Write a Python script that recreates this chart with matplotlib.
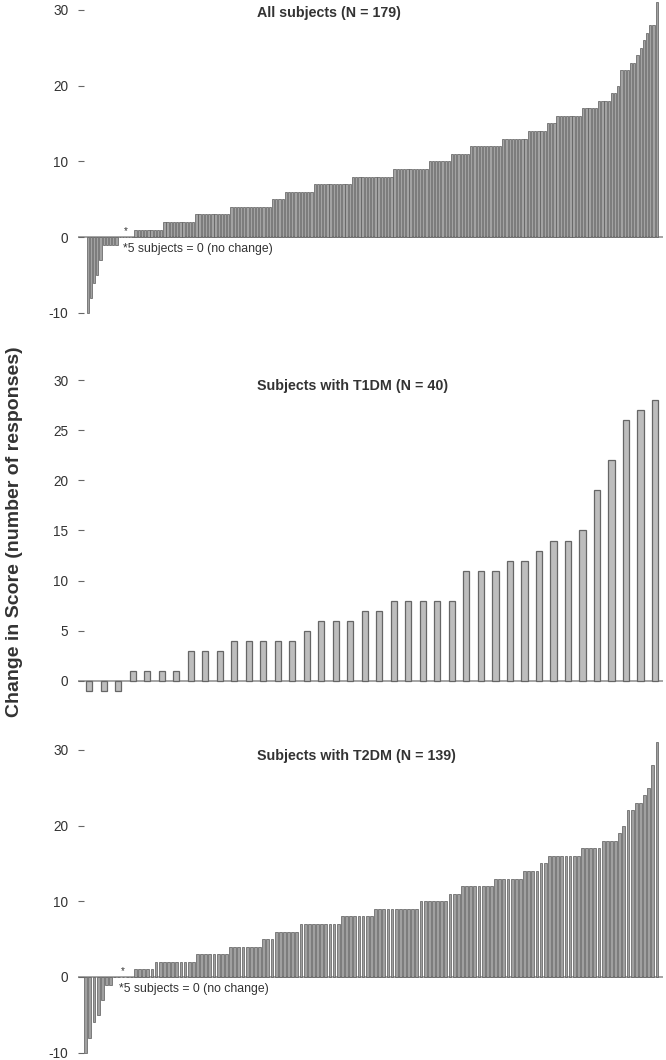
import numpy as np
import matplotlib.pyplot as plt

plt.rcParams['font.family'] = ['Liberation Sans', 'DejaVu Sans']
plt.rcParams['axes.unicode_minus'] = False

# change in score per subject, sorted
t1dm_scores = [-1, -1, -1, 1, 1, 1, 1, 3, 3, 3, 4, 4, 4, 4, 4, 5, 6, 6, 6, 7, 7,
               8, 8, 8, 8, 8, 11, 11, 11, 12, 12, 13, 14, 14, 15, 19, 22, 26, 27, 28]

t2dm_scores = ([-10, -8, -6, -5, -3, -1, -1] + [0] * 5 + [1] * 5 + [2] * 10 + [3] * 8
               + [4] * 8 + [5] * 3 + [6] * 6 + [7] * 10 + [8] * 8 + [9] * 11 + [10] * 7
               + [11] * 3 + [12] * 8 + [13] * 7 + [14] * 4 + [15] * 2 + [16] * 8
               + [17] * 5 + [18] * 4 + [19, 20, 22, 22, 23, 23, 24, 25, 28, 31])

all_scores = sorted(t1dm_scores + t2dm_scores)

titles = ["All subjects (N = 179)", "Subjects with T1DM (N = 40)", "Subjects with T2DM (N = 139)"]
note_text = "*5 subjects = 0 (no change)"
ylabel = "Change in Score (number of responses)"

W, H = 666, 1060
fig = plt.figure(figsize=(W / 100, H / 100), dpi=100)


def px_axes(left, top, right, bottom):
    return fig.add_axes([left / W, 1 - bottom / H, (right - left) / W, (bottom - top) / H])


def draw_panel(ax, scores, title, yticks, ylim, xpad, width, face, edge, lw, title_y, note=False):
    x = np.arange(len(scores))
    ax.bar(x, scores, width=width, color=face, edgecolor=edge, linewidth=lw, zorder=2)
    ax.axhline(0, color='#8c8c8c', lw=1.1, zorder=1)
    ax.set_xlim(-xpad[0], len(scores) - 1 + xpad[1])
    ax.set_ylim(*ylim)
    ax.set_yticks(yticks)
    ax.set_xticks([])
    for s in ax.spines.values():
        s.set_visible(False)
    ax.tick_params(axis='y', direction='in', length=4, width=0.8, color='#666666',
                   pad=7, labelsize=9.8, labelcolor='#333333')
    ax.text(0.306, title_y, title, transform=ax.transAxes, fontsize=10.3,
            fontweight='bold', color='#333333', va='center', ha='left')
    if note:
        zeros = [i for i, v in enumerate(scores) if v == 0]
        xc = np.mean(zeros)
        ax.annotate("*", (xc, 0), xytext=(0, 0.5), textcoords='offset points',
                    ha='center', va='bottom', fontsize=7, color='#333333')
        ax.annotate(note_text, (xc, 0), xytext=(-2.5, -4), textcoords='offset points',
                    ha='left', va='top', fontsize=8.8, color='#333333')


ax1 = px_axes(78, 0, 663, 322)
draw_panel(ax1, all_scores, titles[0], [-10, 0, 10, 20, 30], (-11.2, 31.3), (3.03, 1.97),
           0.72, '#a3a3a3', '#5a5a5a', 0.5, 0.96, note=True)

ax2 = px_axes(78, 365, 663, 700)
draw_panel(ax2, t1dm_scores, titles[1], [0, 5, 10, 15, 20, 25, 30], (-1.9, 31.5), (0.78, 0.55),
           0.42, '#bdbdbd', '#666666', 0.9, 0.937)

ax3 = px_axes(78, 740, 663, 1058)
draw_panel(ax3, t2dm_scores, titles[2], [-10, 0, 10, 20, 30], (-10.7, 31.3), (1.86, 1.45),
           0.68, '#a0a0a0', '#5a5a5a', 0.5, 0.95, note=True)

fig.text(15 / W, 1 - 532 / H, ylabel, rotation=90, fontsize=14, fontweight='bold',
         color='#333333', ha='center', va='center')

fig.savefig("out.png", dpi=100)
